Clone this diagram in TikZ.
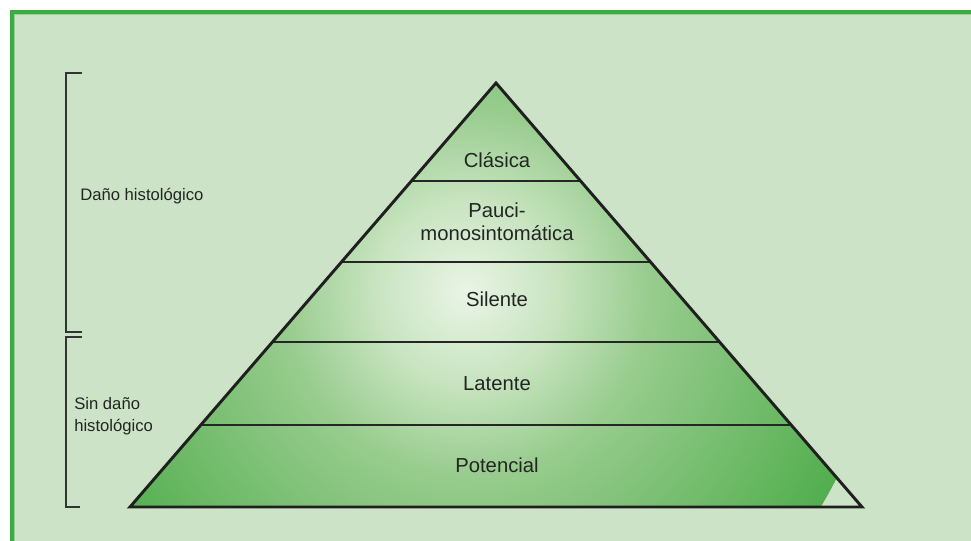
\documentclass[tikz,border=0pt]{standalone}
\usepackage{fontspec}
\setmainfont{Liberation Sans}
\usepackage{xcolor}
\usepackage{tikz}
\usetikzlibrary{calc}

\definecolor{panelbg}{RGB}{205,227,199}
\definecolor{panelrim}{RGB}{62,170,70}
\definecolor{panelrimlt}{RGB}{150,210,145}
\definecolor{pyrin}{RGB}{234,244,230}
\definecolor{pyrlt}{RGB}{200,228,192}
\definecolor{pyrmid}{RGB}{152,204,142}
\definecolor{pyrout}{RGB}{82,174,78}
\definecolor{inktext}{RGB}{34,38,34}

\pgfdeclareradialshading{pyrglow}{\pgfpoint{0bp}{0bp}}{color(0bp)=(pyrin); color(5.5bp)=(pyrlt); color(11bp)=(pyrmid); color(25bp)=(pyrout); color(50bp)=(pyrout)}

\begin{document}
\begin{tikzpicture}[x=0.75pt,y=0.75pt,yscale=-1,xscale=1,
  lbl/.style={inner sep=0pt, text=inktext, font=\fontsize{15.2}{17.25}\selectfont},
  sidelbl/.style={inner sep=0pt, text=inktext, font=\fontsize{12.5}{16.5}\selectfont, align=left},
  tier/.style={line width=1.2pt, color=black!85},
  brace/.style={line width=0.9pt, color=black!80}]
\useasboundingbox (0,0) rectangle (971,541);

%Shape: Panel
\fill [panelbg] (10,10) rectangle (971,541);
\draw [panelrimlt, line width=0.75pt] (971,14.5) -- (14.5,14.5) -- (14.5,541);
\draw [panelrim, line width=3pt] (971,12) -- (12,12) -- (12,541);

%Shape: Pyramid corners
\coordinate (apex) at (496,83);
\coordinate (baseL) at (130,507);
\coordinate (baseR) at (862,507);

%Shape: Pyramid fill
\begin{scope}
\clip (apex) -- (baseL) -- (baseR) -- cycle;
\shade [shading=pyrglow] (466,292) circle [radius=311pt];
\end{scope}

%Straight Lines: tiers
\foreach \t in {0.2311,0.4222,0.6108,0.8066}
  \draw [tier] ($(apex)!\t!(baseL)$) -- ($(apex)!\t!(baseR)$);

%Shape: Triangle
\draw [line width=2.2pt, color=black!88, line join=miter] (apex) -- (baseL) -- (baseR) -- cycle;

%Shape: Brackets
\draw [brace] (82,73) -- (66,73) -- (66,332) -- (82,332);
\draw [brace] (82,337) -- (66,337) -- (66,507) -- (80,507);

% Text Node
\draw (497,168) node (clasica) [anchor=base][lbl] {Clásica};
% Text Node
\draw (497,221.4) node (pauci) [anchor=center][lbl, align=center] {Pauci-\\monosintomática};
% Text Node
\draw (497,307) node (silente) [anchor=base][lbl] {Silente};
% Text Node
\draw (497,391) node (latente) [anchor=base][lbl] {Latente};
% Text Node
\draw (497,473) node (potencial) [anchor=base][lbl] {Potencial};
% Text Node
\draw (80,201) node (dano) [anchor=base west][sidelbl] {Daño histológico};
% Text Node
\draw (74,415.7) node (sindano) [anchor=west][sidelbl] {Sin daño\\histológico};

\end{tikzpicture}
\end{document}
